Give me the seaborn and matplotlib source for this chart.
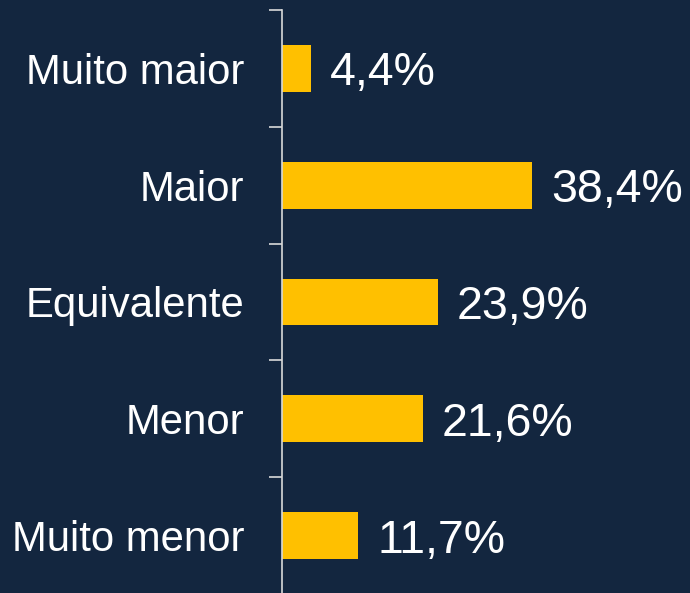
import matplotlib
matplotlib.use("Agg")
import matplotlib.pyplot as plt
import seaborn as sns
import pandas as pd
import numpy as np

categories = ["Muito maior", "Maior", "Equivalente", "Menor", "Muito menor"]
values = [4.4, 38.4, 23.9, 21.6, 11.7]
value_labels = ["4,4%", "38,4%", "23,9%", "21,6%", "11,7%"]

BG = "#13263F"
BAR = "#FFC000"
AX = "#D9D9D9"

sns.set_style("white")
plt.rcParams["font.family"] = ["Liberation Sans", "DejaVu Sans"]

df = pd.DataFrame({"cat": categories, "val": values})

fig = plt.figure(figsize=(6.9, 5.93), dpi=100, facecolor=BG)
ax = fig.add_axes([282 / 690, -1 / 593, (690 - 282) / 690, 584 / 593])
ax.set_facecolor(BG)

sns.barplot(data=df, x="val", y="cat", order=categories, color=BAR,
            width=0.4, saturation=1, linewidth=0, edgecolor=BAR, ax=ax)

ax.set_xlim(0, 62.7)
ax.set_ylim(4.5, -0.5)

for i, (v, lab) in enumerate(zip(values, value_labels)):
    ax.annotate(lab, xy=(v, i), xytext=(14, 0), textcoords="offset points",
                ha="left", va="center_baseline", fontsize=33.5, color="white")

for s in ["top", "right", "bottom"]:
    ax.spines[s].set_visible(False)
ax.spines["left"].set_color(AX)
ax.spines["left"].set_linewidth(1.2)

ax.set_xticks([])
ax.set_xlabel("")
ax.set_ylabel("")
ax.set_yticks(range(len(categories)))
ax.set_yticklabels(categories, fontsize=30.2, color="white")
ax.tick_params(axis="y", which="major", length=0, pad=27)
ax.set_yticks(np.arange(-0.5, len(categories) + 0.5, 1), minor=True)
ax.tick_params(axis="y", which="minor", length=9.4, width=1.2, color=AX, left=True)

fig.savefig("out.png", dpi=100, facecolor=BG)
